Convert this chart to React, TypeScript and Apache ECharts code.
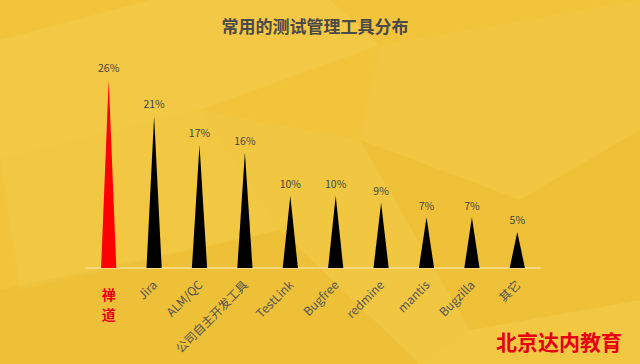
import React, { useEffect, useRef } from "react";
import * as echarts from "echarts";

const categories = ["禅道", "Jira", "ALM/QC", "公司自主开发工具", "TestLink", "Bugfree", "redmine", "mantis", "Bugzilla", "其它"];
const shares = [26, 21, 17, 16, 10, 10, 9, 7, 7, 5];
const highlightIndex = 0;

export default function App() {
  const ref = useRef<HTMLDivElement>(null);
  useEffect(() => {
    if (!ref.current) return;
    const chart = echarts.init(ref.current, null, { renderer: "svg" });
    const facets = [
      { pts: [[0, 40], [150, 0], [330, 0], [380, 45], [200, 110], [0, 160]], fill: "rgba(255,240,150,0.10)" },
      { pts: [[0, 160], [200, 110], [280, 230], [20, 290]], fill: "rgba(255,230,120,0.10)" },
      { pts: [[380, 45], [640, 0], [640, 130], [520, 200], [360, 140]], fill: "rgba(255,235,130,0.08)" },
      { pts: [[360, 140], [520, 200], [640, 130], [640, 300], [470, 330]], fill: "rgba(190,140,0,0.05)" },
      { pts: [[0, 290], [280, 230], [420, 364], [0, 364]], fill: "rgba(190,140,0,0.06)" },
      { pts: [[420, 364], [470, 330], [640, 300], [640, 364]], fill: "rgba(255,240,150,0.08)" },
      { pts: [[200, 110], [360, 140], [470, 330], [420, 364], [280, 230]], fill: "rgba(255,250,180,0.06)" },
    ];
    const option: any = {
      animation: false,
      backgroundColor: "#F1C43B",
      title: {
        text: "常用的测试管理工具分布",
        left: 310,
        textAlign: "center",
        top: 12,
        textStyle: { color: "#4a4a4a", fontSize: 17, fontWeight: "bold", fontFamily: "Noto Sans CJK SC" },
      },
      graphic: [
        ...facets.map((f) => ({
          type: "polygon",
          z: -10,
          silent: true,
          shape: { points: f.pts },
          style: { fill: f.fill },
        })),
        {
          type: "text",
          left: 496,
          top: 330,
          style: {
            text: "北京达内教育",
            fill: "#E60012",
            font: "bold 21px 'Noto Sans CJK SC'",
          },
        },
      ],
      grid: { left: 86, right: 100, top: 51, bottom: 96, containLabel: false },
      xAxis: [
        {
          type: "category",
          data: categories,
          axisLine: { show: true, lineStyle: { color: "#F6DE98", width: 1.5 } },
          axisTick: { show: false },
          axisLabel: {
            rotate: 45,
            interval: 0,
            margin: 14,
            color: "#555",
            fontSize: 12,
            fontFamily: "Noto Sans CJK SC",
            formatter: (v: string, i: number) => (i === highlightIndex ? "" : v),
          },
        },
        {
          type: "category",
          data: categories,
          position: "bottom",
          axisLine: { show: false },
          axisTick: { show: false },
          axisLabel: {
            interval: 0,
            margin: 16,
            color: "#E60012",
            fontSize: 14,
            fontWeight: "bold",
            lineHeight: 20,
            fontFamily: "Noto Sans CJK SC",
            formatter: (v: string, i: number) => (i === highlightIndex ? v.split("").join("\n") : ""),
          },
        },
      ],
      yAxis: { type: "value", min: 0, max: 30, show: false, splitLine: { show: false } },
      series: [
        {
          type: "pictorialBar",
          symbol: "triangle",
          symbolSize: [15, "100%"],
          data: shares.map((v, i) => ({
            value: v,
            itemStyle: { color: i === highlightIndex ? "#FF0000" : "#000000" },
          })),
          label: {
            show: true,
            position: "top",
            distance: 7,
            color: "#444",
            fontSize: 10.5,
            fontFamily: "Noto Sans CJK SC",
            formatter: "{c}%",
          },
        },
      ],
    };
    chart.setOption(option);
    return () => chart.dispose();
  }, []);
  return <div ref={ref} style={{ position: "fixed", left: 0, top: 0, width: 640, height: 364 }} />;
}
